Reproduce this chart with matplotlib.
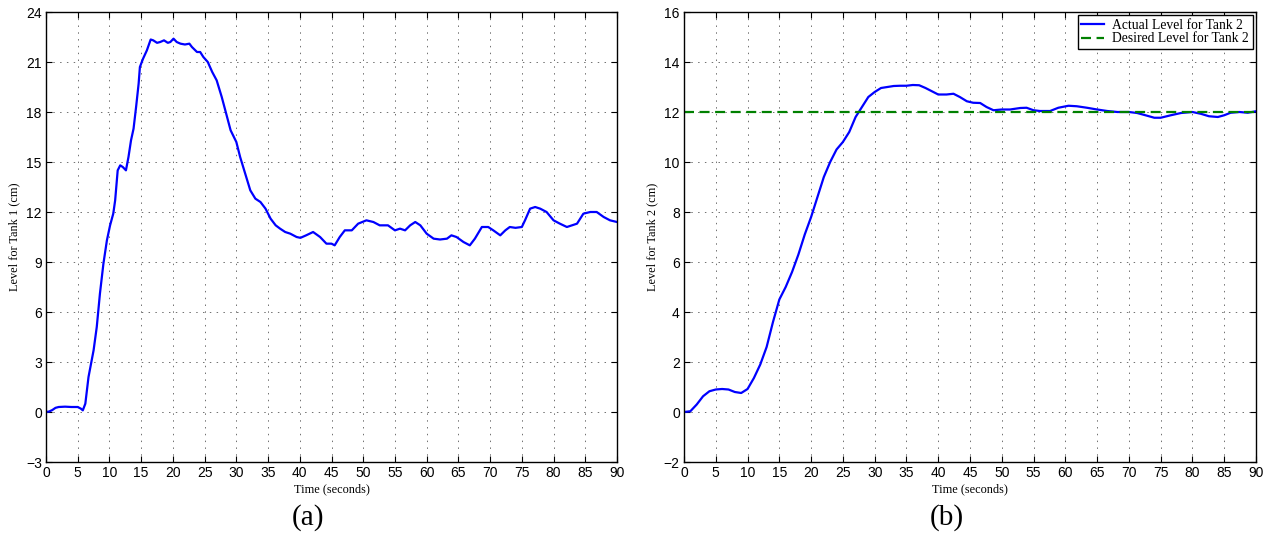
import matplotlib
matplotlib.use("Agg")
import matplotlib.pyplot as plt

# ---- data: Tank 1 (panel a) ----
t1 = [0, 0.5, 1.0, 1.5, 2.0, 3.0, 4.0, 5.0, 5.5, 5.8, 6.2, 6.7, 7.5, 8.0, 8.5, 9.05, 9.6, 10.1, 10.6, 10.9,
      11.3, 11.7, 12.1, 12.6, 13.0, 13.4, 13.8, 14.2, 14.6, 14.8, 15.3, 15.9, 16.5, 16.9, 17.5, 18.0,
      18.6, 19.2, 19.6, 20.1, 20.6, 21.2, 21.9, 22.6, 23.0, 23.8, 24.3, 24.8, 25.5, 26.2, 26.9, 27.7,
      28.4, 29.1, 30.0, 30.6, 31.4, 32.2, 33.0, 33.8, 34.6, 35.4, 36.2, 36.9, 37.7, 38.5, 39.5, 40.1,
      41.0, 42.1, 43.2, 44.2, 45.0, 45.5, 46.3, 47.1, 48.2, 49.2, 50.5, 51.6, 52.6, 53.9, 55.0, 55.8,
      56.6, 57.4, 58.2, 59.0, 60.0, 61.1, 62.1, 63.2, 63.9, 64.7, 65.8, 66.8, 67.6, 68.7, 69.7, 70.5,
      71.6, 72.4, 73.1, 74.0, 75.0, 75.5, 76.3, 77.1, 77.9, 78.9, 80.0, 81.0, 82.1, 82.9, 83.7, 84.7,
      85.8, 86.8, 87.9, 88.9, 90.0]
h1 = [0.0, 0.03, 0.12, 0.25, 0.3, 0.32, 0.3, 0.3, 0.2, 0.1, 0.5, 2.1, 3.7, 5.1, 7.1, 8.9, 10.3, 11.2, 11.9, 12.7,
      14.5, 14.8, 14.7, 14.5, 15.3, 16.3, 17.0, 18.3, 19.7, 20.7, 21.2, 21.7, 22.35, 22.3, 22.15, 22.2,
      22.3, 22.15, 22.2, 22.4, 22.2, 22.1, 22.05, 22.1, 21.9, 21.6, 21.6, 21.3, 21.0, 20.4, 19.9, 18.9,
      17.9, 16.9, 16.2, 15.3, 14.3, 13.3, 12.8, 12.6, 12.2, 11.6, 11.2, 11.0, 10.8, 10.7, 10.5, 10.45,
      10.6, 10.8, 10.5, 10.1, 10.1, 10.0, 10.5, 10.9, 10.9, 11.3, 11.5, 11.4, 11.2, 11.2, 10.9, 11.0,
      10.9, 11.2, 11.4, 11.2, 10.7, 10.4, 10.35, 10.4, 10.6, 10.5, 10.2, 10.0, 10.4, 11.1, 11.1, 10.9,
      10.6, 10.9, 11.1, 11.05, 11.1, 11.5, 12.2, 12.3, 12.2, 12.0, 11.5, 11.3, 11.1, 11.2, 11.3, 11.9,
      12.0, 12.0, 11.7, 11.5, 11.4]

# ---- data: Tank 2 (panel b) ----
t2 = [0, 1, 2, 3, 4, 5, 6, 7, 8, 9, 10, 11, 12, 13, 14, 15, 16, 17, 18, 19, 20, 21, 22, 23, 24, 25,
      26, 27, 28, 29, 30, 31, 32, 33, 34, 35, 36, 37, 38, 39, 40, 41.3, 42.4, 43.4, 44.5, 45.5, 46.6,
      47.6, 48.7, 50.0, 51.3, 52.9, 53.9, 55.0, 56.0, 57.6, 58.9, 60.5, 61.8, 63.4, 65.0, 66.6, 68.2,
      70.0, 71.3, 72.6, 74.0, 75.0, 76.6, 78.2, 80.0, 81.3, 82.6, 84.0, 85.0, 86.0, 87.4, 88.7, 90.0]
h2 = [0.0, 0.03, 0.3, 0.63, 0.83, 0.9, 0.92, 0.9, 0.8, 0.76, 0.92, 1.36, 1.9, 2.6, 3.6, 4.5, 5.0, 5.6, 6.3,
      7.1, 7.8, 8.6, 9.4, 10.0, 10.5, 10.8, 11.2, 11.8, 12.2, 12.6, 12.8, 12.96, 13.0, 13.04, 13.05,
      13.05, 13.08, 13.07, 12.96, 12.83, 12.7, 12.7, 12.73, 12.6, 12.43, 12.37, 12.36, 12.2, 12.07,
      12.1, 12.1, 12.16, 12.17, 12.07, 12.04, 12.04, 12.17, 12.25, 12.23, 12.17, 12.1, 12.04, 12.0,
      12.0, 11.96, 11.87, 11.77, 11.77, 11.87, 11.96, 12.0, 11.93, 11.83, 11.8, 11.87, 11.97, 12.0,
      11.97, 12.03]
desired2 = 12

xticks = list(range(0, 95, 5))
yticks1 = list(range(-3, 25, 3))
yticks2 = list(range(-2, 17, 2))

serif = ["Liberation Serif", "DejaVu Serif"]
sans = ["Liberation Sans", "DejaVu Sans"]

fig = plt.figure(figsize=(12.7, 5.38), dpi=100)
ax1 = fig.add_axes([46 / 1270, 1 - 462 / 538, 571 / 1270, 450 / 538])
ax2 = fig.add_axes([684 / 1270, 1 - 462 / 538, 572 / 1270, 450 / 538])


def style(ax, yticks, ylabel):
    ax.set_xlim(0, 90)
    ax.set_ylim(yticks[0], yticks[-1])
    ax.set_xticks(xticks)
    ax.set_yticks(yticks)
    ax.tick_params(direction="in", length=4, width=0.8, top=True, right=True,
                   labelsize=10, pad=3)
    for lab in ax.get_xticklabels() + ax.get_yticklabels():
        lab.set_family(sans)
    ax.grid(True, linestyle=(0, (1.5, 5.5)), color="#707070", linewidth=0.7)
    ax.set_axisbelow(True)
    for s in ax.spines.values():
        s.set_linewidth(1.0)
        s.set_color("black")
    ax.set_xlabel("Time (seconds)", family=serif, fontsize=8.8, labelpad=2)
    ax.set_ylabel(ylabel, family=serif, fontsize=8.8, labelpad=4)


ax1.plot(t1, h1, color="#0000ff", linewidth=1.6)
style(ax1, yticks1, "Level for Tank 1 (cm)")

ax2.plot(t2, h2, color="#0000ff", linewidth=1.6, label="Actual Level for Tank 2")
ax2.plot([0, 90], [desired2, desired2], color="#008000", linewidth=1.6, linestyle=(0, (4.5, 2.5)),
         label="Desired Level for Tank 2")
style(ax2, yticks2, "Level for Tank 2 (cm)")
leg = ax2.legend(loc="upper right", prop={"family": serif, "size": 9.8}, frameon=True,
                 fancybox=False, edgecolor="black", framealpha=1, borderpad=0.25,
                 handlelength=1.7, handletextpad=0.6, labelspacing=0.05,
                 borderaxespad=0.25)
leg.get_frame().set_linewidth(1.0)

fig.text(308 / 1270, 1 - 518 / 538, "(a)", family=serif, fontsize=21, ha="center", va="center")
fig.text(947 / 1270, 1 - 518 / 538, "(b)", family=serif, fontsize=21, ha="center", va="center")

fig.savefig("out.png", dpi=100)
